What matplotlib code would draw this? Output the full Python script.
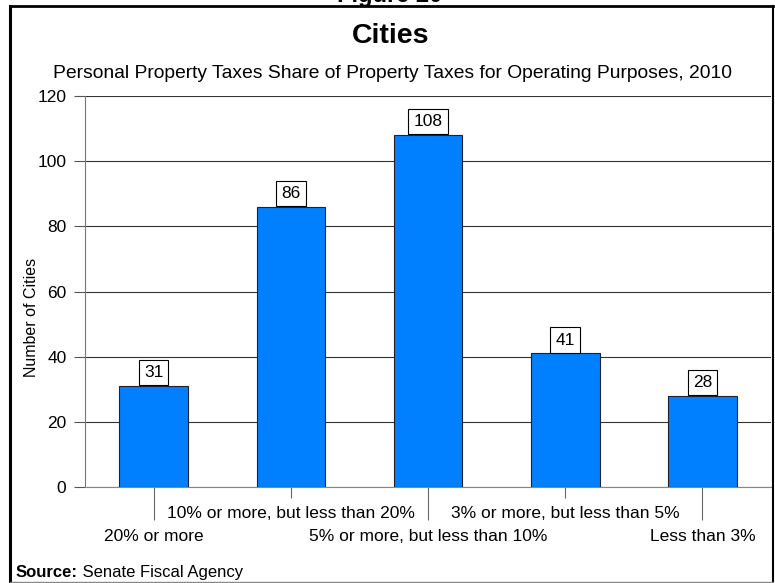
import matplotlib
matplotlib.use("Agg")
import matplotlib.pyplot as plt
from matplotlib.lines import Line2D

plt.rcParams["font.family"] = ["Liberation Sans", "DejaVu Sans"]

# data
categories = [
    "20% or more",
    "10% or more, but less than 20%",
    "5% or more, but less than 10%",
    "3% or more, but less than 5%",
    "Less than 3%",
]
counts = [31, 86, 108, 41, 28]
y_ticks = [0, 20, 40, 60, 80, 100, 120]

W, H = 775, 583
fig = plt.figure(figsize=(W / 100, H / 100), dpi=100)

# axes box measured in pixels
ax = fig.add_axes([85 / W, 1 - 487 / H, 686 / W, (487 - 96) / H])

x = list(range(len(categories)))
ax.bar(x, counts, width=0.5, color="#0080ff", edgecolor="#202030", linewidth=0.8, zorder=3)

for xi, v in zip(x, counts):
    ax.annotate(str(v), (xi, v), xytext=(0, 4.2), textcoords="offset points",
                ha="center", va="bottom", fontsize=12.5, zorder=4,
                bbox=dict(boxstyle="square,pad=0.3", fc="white", ec="black", lw=0.8))

ax.set_xlim(-0.5, len(categories) - 0.5)
ax.set_ylim(0, 120)
ax.set_yticks(y_ticks)
ax.tick_params(axis="y", length=7.9, width=0.8, color="#555555", pad=5.5, labelsize=12.5)

# staggered category labels: lower row on long ticks, upper row on short ticks
ax.set_xticks(x[0::2], categories[0::2])
ax.set_xticks(x[1::2], categories[1::2], minor=True)
ax.tick_params(axis="x", which="major", length=23.8, width=0.8, color="#666666", pad=6.5, labelsize=12.5)
ax.tick_params(axis="x", which="minor", length=7.9, width=0.8, color="#666666", pad=5.5, labelsize=12.5)

ax.yaxis.grid(True, color="#333333", linewidth=0.8)
ax.set_axisbelow(True)
for s in ["top", "right"]:
    ax.spines[s].set_visible(False)
ax.spines["left"].set_color("#777777")
ax.spines["bottom"].set_color("#888888")

fig.text(31 / W, 1 - 317 / H, "Number of Cities", rotation=90, ha="center", va="center", fontsize=11.5)

fig.text(391 / W, 1 - 43 / H, "Cities", ha="center", va="baseline", fontsize=20.5, fontweight="bold")
fig.text(392 / W, 1 - 78 / H, "Personal Property Taxes Share of Property Taxes for Operating Purposes, 2010",
         ha="center", va="baseline", fontsize=13.9)
fig.text(390 / W, 1 - 2 / H, "Figure 20", ha="center", va="baseline", fontsize=17, fontweight="bold")

src = fig.text(16 / W, 1 - 577 / H, "Source:", ha="left", va="baseline", fontsize=12, fontweight="bold")
fig.canvas.draw()
bb = src.get_window_extent()
fig.text(bb.x1 / W, 1 - 577 / H, " Senate Fiscal Agency", ha="left", va="baseline", fontsize=12)

# outer frame
fig.add_artist(Line2D([10 / W, 10 / W], [0, 1 - 6 / H], transform=fig.transFigure, color="black", lw=2.2))
fig.add_artist(Line2D([10 / W, 772.5 / W], [1 - 6 / H, 1 - 6 / H], transform=fig.transFigure, color="black", lw=2.0))
fig.add_artist(Line2D([772.5 / W, 772.5 / W], [1 - 6 / H, 1 - 582 / H], transform=fig.transFigure, color="black", lw=1.5))
fig.add_artist(Line2D([10 / W, 772.5 / W], [1 - 582 / H, 1 - 582 / H], transform=fig.transFigure, color="#888888", lw=1.0))

fig.savefig("out.png", dpi=100)
